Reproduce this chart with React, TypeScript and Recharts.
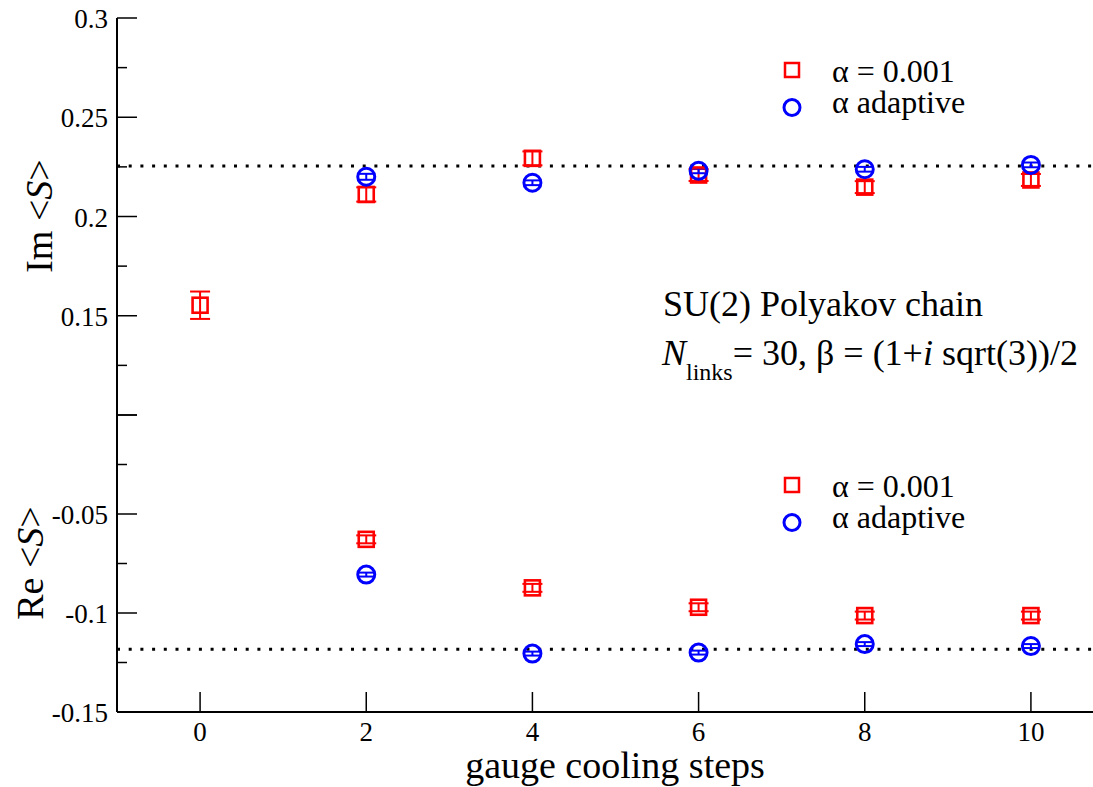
import { ErrorBar, Legend, ReferenceLine, Scatter, ScatterChart, XAxis, YAxis } from "recharts";

// gauge cooling steps on the x axis
const steps = [0, 2, 4, 6, 8, 10];
const adaptiveSteps = [2, 4, 6, 8, 10];

// Im <S>
const imFixed = [0.1553, 0.2111, 0.2293, 0.2209, 0.2148, 0.2184];
const imFixedErr = [0.0069, 0.0036, 0.0035, 0.003, 0.003, 0.003];
const imAdaptive = [0.22, 0.217, 0.223, 0.2238, 0.226];
const imAdaptiveErr = [0.0015, 0.0012, 0.0012, 0.0012, 0.0012];
const imExact = 0.2254;

// Re <S>
const reFixed = [-0.0628, -0.0873, -0.0971, -0.1013, -0.1013];
const reFixedErr = [0.002, 0.002, 0.002, 0.002, 0.002];
const reAdaptive = [-0.0806, -0.1205, -0.12, -0.1157, -0.1167];
const reAdaptiveErr = [0.001, 0.001, 0.001, 0.001, 0.001];
const reExact = -0.1183;

const xTicks = [0, 2, 4, 6, 8, 10];
const imTicks = [0.1, 0.125, 0.15, 0.175, 0.2, 0.225, 0.25, 0.275, 0.3];
const imLabels = [0.15, 0.2, 0.25, 0.3];
const reTicks = [-0.15, -0.125, -0.1, -0.075, -0.05, -0.025, 0];
const reLabels = [-0.15, -0.1, -0.05];

const FONT = '"Liberation Serif", "Times New Roman", serif';
const RED = "#ff0000";
const BLUE = "#0000ff";
const CHART_W = 1116;
const CHART_H = 787;

const toPoints = (xs: number[], ys: number[], errs: number[]) =>
  xs.map((x, i) => ({ x, y: ys[i], err: errs[i] }));

const isMajor = (v: number) => Math.abs(v / 0.05 - Math.round(v / 0.05)) < 1e-6;
const hasLabel = (list: number[], v: number) => list.some((l) => Math.abs(l - v) < 1e-9);

function LeftTick(props: any) {
  const { x, y, payload, labels } = props;
  const v = payload.value;
  const len = isMajor(v) ? 20 : 10;
  return (
    <g>
      <line x1={x} x2={x + len} y1={y} y2={y} stroke="#000" strokeWidth={1.5} />
      {hasLabel(labels, v) && (
        <text x={x - 9} y={y + 10} textAnchor="end" fontSize={27} fontFamily={FONT} fill="#000">
          {String(v)}
        </text>
      )}
    </g>
  );
}

// right frame sits just past the visible edge, only the long ticks poke in
function RightTick(props: any) {
  const { x, y, payload } = props;
  const len = isMajor(payload.value) ? 26 : 13;
  return <line x1={x} x2={x - len} y1={y} y2={y} stroke="#000" strokeWidth={1.5} />;
}

function TopTick(props: any) {
  const { x, y } = props;
  return <line x1={x} x2={x} y1={y} y2={y + 20} stroke="#000" strokeWidth={1.5} />;
}

function BottomTick(props: any) {
  const { x, y, payload, showLabel } = props;
  return (
    <g>
      <line x1={x} x2={x} y1={y} y2={y - 20} stroke="#000" strokeWidth={1.5} />
      {showLabel && (
        <text x={x} y={y + 29} textAnchor="middle" fontSize={27} fontFamily={FONT} fill="#000">
          {payload.value}
        </text>
      )}
    </g>
  );
}

const Square = (p: any) => (
  <rect x={p.cx - 7.5} y={p.cy - 7.5} width={15} height={15} fill="none" stroke={RED} strokeWidth={2.6} />
);
const Ring = (p: any) => <circle cx={p.cx} cy={p.cy} r={8.5} fill="none" stroke={BLUE} strokeWidth={3} />;

function SeriesKey() {
  return (
    <svg width={220} height={70} style={{ overflow: "visible", display: "block" }}>
      <rect x={10} y={11} width={14} height={14} fill="none" stroke={RED} strokeWidth={2.5} />
      <text x={57} y={30} fontSize={32} fontFamily={FONT}>
        α = 0.001
      </text>
      <circle cx={17} cy={55.5} r={8} fill="none" stroke={BLUE} strokeWidth={3} />
      <text x={57} y={61} fontSize={32} fontFamily={FONT}>
        α adaptive
      </text>
    </svg>
  );
}

interface PanelProps {
  top: number;
  bottom: number;
  domain: [number, number];
  ticks: number[];
  labels: number[];
  exact: number;
  fixed: { x: number; y: number; err: number }[];
  adaptive: { x: number; y: number; err: number }[];
  xLabels: boolean;
  keyTop: number;
}

function Panel(p: PanelProps) {
  return (
    <div style={{ position: "absolute", left: 0, top: 0 }}>
      <ScatterChart width={CHART_W} height={CHART_H} margin={{ top: p.top, bottom: p.bottom, left: 0, right: 2 }}>
        <XAxis
          xAxisId="b"
          type="number"
          dataKey="x"
          domain={[-1, 11]}
          ticks={xTicks}
          interval={0}
          height={p.xLabels ? 75 : 0}
          tickSize={0}
          tickMargin={0}
          axisLine={{ stroke: "#000", strokeWidth: 2 }}
          tickLine={false}
          tick={(t: any) => <BottomTick {...t} showLabel={p.xLabels} />}
        />
        <XAxis
          xAxisId="t"
          orientation="top"
          type="number"
          domain={[-1, 11]}
          ticks={xTicks}
          interval={0}
          height={0}
          tickSize={0}
          tickMargin={0}
          axisLine={{ stroke: "#000", strokeWidth: 2 }}
          tickLine={false}
          tick={(t: any) => <TopTick {...t} />}
        />
        <YAxis
          yAxisId="l"
          type="number"
          dataKey="y"
          domain={p.domain}
          ticks={p.ticks}
          interval={0}
          width={117}
          tickSize={0}
          tickMargin={0}
          axisLine={{ stroke: "#000", strokeWidth: 2 }}
          tickLine={false}
          tick={(t: any) => <LeftTick {...t} labels={p.labels} />}
        />
        <YAxis
          yAxisId="r"
          orientation="right"
          type="number"
          domain={p.domain}
          ticks={p.ticks}
          interval={0}
          width={0}
          tickSize={0}
          tickMargin={0}
          axisLine={{ stroke: "#000", strokeWidth: 2 }}
          tickLine={false}
          tick={(t: any) => <RightTick {...t} />}
        />
        <ReferenceLine
          xAxisId="b"
          yAxisId="l"
          y={p.exact}
          stroke="#000"
          strokeWidth={3}
          strokeDasharray="3 8.7"
        />
        <Scatter xAxisId="b" yAxisId="l" data={p.fixed} shape={Square} isAnimationActive={false}>
          <ErrorBar dataKey="err" direction="y" width={10} stroke={RED} strokeWidth={2} isAnimationActive={false} />
        </Scatter>
        <Scatter xAxisId="b" yAxisId="l" data={p.adaptive} shape={Ring} isAnimationActive={false}>
          <ErrorBar dataKey="err" direction="y" width={9} stroke={BLUE} strokeWidth={2} isAnimationActive={false} />
        </Scatter>
        <Legend
          layout="vertical"
          align="center"
          verticalAlign="middle"
          wrapperStyle={{ left: 775, top: p.keyTop, width: 220 }}
          content={() => <SeriesKey />}
        />
      </ScatterChart>
    </div>
  );
}

export default function App() {
  return (
    <div
      style={{
        position: "absolute",
        left: 0,
        top: 0,
        width: 1093,
        height: 787,
        overflow: "hidden",
        background: "#fff",
        fontFamily: FONT,
      }}
    >
      <Panel
        top={18}
        bottom={372}
        domain={[0.1, 0.3]}
        ticks={imTicks}
        labels={imLabels}
        exact={imExact}
        fixed={toPoints(steps, imFixed, imFixedErr)}
        adaptive={toPoints(adaptiveSteps, imAdaptive, imAdaptiveErr)}
        xLabels={false}
        keyTop={52}
      />
      <Panel
        top={415}
        bottom={0}
        domain={[-0.15, 0]}
        ticks={reTicks}
        labels={reLabels}
        exact={reExact}
        fixed={toPoints(adaptiveSteps, reFixed, reFixedErr)}
        adaptive={toPoints(adaptiveSteps, reAdaptive, reAdaptiveErr)}
        xLabels={true}
        keyTop={467}
      />
      <svg
        width={1093}
        height={787}
        style={{ position: "absolute", left: 0, top: 0, pointerEvents: "none" }}
        fontFamily={FONT}
      >
        <text x={52} y={216} fontSize={38} textAnchor="middle" transform="rotate(-90 52 216)">
          {"Im <"}
          <tspan fontStyle="italic">S</tspan>
          {">"}
        </text>
        <text x={43} y={563} fontSize={38} textAnchor="middle" transform="rotate(-90 43 563)">
          {"Re <"}
          <tspan fontStyle="italic">S</tspan>
          {">"}
        </text>
        <text x={615} y={778} fontSize={38} textAnchor="middle">
          gauge cooling steps
        </text>
        <text x={663} y={316} fontSize={36}>
          SU(2) Polyakov chain
        </text>
        <text x={662} y={365} fontSize={36}>
          <tspan fontStyle="italic">N</tspan>
          <tspan fontSize={24} dy={15}>
            links
          </tspan>
          <tspan dy={-15}>{"= 30, β = (1+"}</tspan>
          <tspan fontStyle="italic">i</tspan>
          <tspan>{" sqrt(3))/2"}</tspan>
        </text>
      </svg>
    </div>
  );
}
